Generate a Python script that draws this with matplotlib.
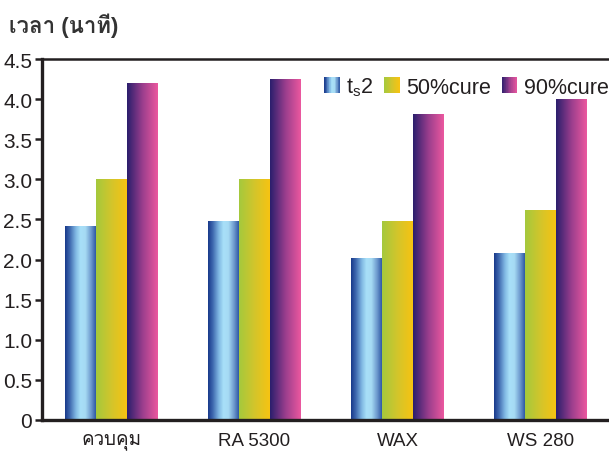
import numpy as np
import matplotlib
matplotlib.use("Agg")
import matplotlib.pyplot as plt
from matplotlib import font_manager
from matplotlib.ft2font import FT2Font
from matplotlib.colors import LinearSegmentedColormap
from matplotlib.patches import Rectangle
from matplotlib.legend_handler import HandlerBase

# ---- data -------------------------------------------------------------
categories = ["ควบคุม", "RA 5300", "WAX", "WS 280"]
series_names = ["$\\mathregular{t_s}$2", "50%cure", "90%cure"]
ts2 = [2.41, 2.47, 2.01, 2.08]
cure50 = [3.00, 3.00, 2.48, 2.61]
cure90 = [4.20, 4.24, 3.81, 3.99]
y_ticks = [0, 0.5, 1.0, 1.5, 2.0, 2.5, 3.0, 3.5, 4.0, 4.5]
y_tick_labels = ["0", "0.5", "1.0", "1.5", "2.0", "2.5", "3.0", "3.5", "4.0", "4.5"]
y_title = "เวลา (นาที)"


# ---- fonts: find an installed face that has Thai glyphs ---------------
def find_thai_family():
    for f in font_manager.fontManager.ttflist:
        try:
            if 0x0E27 in FT2Font(f.fname).get_charmap():
                return f.name
        except Exception:
            continue
    return None


thai = find_thai_family()
families = ["Liberation Sans", "DejaVu Sans"]
if thai:
    families = ["Liberation Sans", thai, "DejaVu Sans"]
plt.rcParams["font.family"] = families
plt.rcParams["mathtext.fontset"] = "custom"
plt.rcParams["mathtext.rm"] = "Liberation Sans"

INK = "#231f20"

# ---- horizontal gradients for each series -----------------------------
cmaps = [
    LinearSegmentedColormap.from_list("ts2", [
        (0.00, "#18398a"), (0.15, "#3d66ad"), (0.35, "#80b8e3"),
        (0.50, "#a8e0f8"), (0.66, "#a6dbf4"), (0.85, "#6b97cc"),
        (1.00, "#2e58a4")]),
    LinearSegmentedColormap.from_list("c50", [
        (0.00, "#a4c93d"), (0.50, "#d3c52b"), (1.00, "#f7c312")]),
    LinearSegmentedColormap.from_list("c90", [
        (0.00, "#2a1e6c"), (0.50, "#9a3e8d"), (1.00, "#ec589f")]),
]
grad = np.linspace(0, 1, 256).reshape(1, -1)

fig = plt.figure(figsize=(6.09, 4.52), dpi=100)
ax = fig.add_axes([42 / 609, 31 / 452, (609 - 42) / 609, 361 / 452])

x = np.arange(len(categories))
width = 0.215
offsets = [-width, 0.0, width]
series = [ts2, cure50, cure90]

for vals, off, cmap in zip(series, offsets, cmaps):
    bars = ax.bar(x + off, vals, width, color="none", linewidth=0)
    for b in bars:
        x0, w, h = b.get_x(), b.get_width(), b.get_height()
        ax.imshow(grad, cmap=cmap, aspect="auto", interpolation="bilinear",
                  extent=[x0, x0 + w, 0, h], zorder=2)

ax.set_xlim(-0.486, 3.479)
ax.set_ylim(0, 4.5)

ax.set_yticks(y_ticks, y_tick_labels)
ax.set_xticks(x, categories)
ax.tick_params(axis="y", direction="out", length=5, width=1.8, color=INK,
               labelsize=15, labelcolor=INK, pad=2)
ax.tick_params(axis="x", length=0, labelsize=13.5, labelcolor=INK, pad=9)

for side in ("left", "bottom", "top"):
    ax.spines[side].set_color(INK)
ax.spines["left"].set_linewidth(2.4)
ax.spines["bottom"].set_linewidth(2.4)
ax.spines["top"].set_linewidth(1.8)
ax.spines["right"].set_visible(False)


# ---- legend with gradient swatches ------------------------------------
class GradientSwatch(HandlerBase):
    def __init__(self, cmap, steps=24):
        super().__init__()
        self.cmap = cmap
        self.steps = steps

    def create_artists(self, legend, orig_handle, xdescent, ydescent,
                       width, height, fontsize, trans):
        sw = width / self.steps
        arts = []
        for i in range(self.steps):
            r = Rectangle((-xdescent + i * sw, -ydescent), sw * 1.05, height,
                          facecolor=self.cmap((i + 0.5) / self.steps),
                          edgecolor="none", transform=trans)
            arts.append(r)
        return arts


proxies = [Rectangle((0, 0), 1, 1) for _ in cmaps]
ax.legend(proxies, series_names, ncol=3, frameon=False,
          loc="upper right", bbox_to_anchor=(1.022, 0.99),
          fontsize=15.5, handlelength=0.72, handleheight=0.8,
          handletextpad=0.3, columnspacing=0.5, borderaxespad=0.2,
          labelcolor=INK,
          handler_map={p: GradientSwatch(c) for p, c in zip(proxies, cmaps)})

fig.text(9 / 609, 1 - 26 / 452, y_title, fontsize=16, fontweight="bold",
         color="#333333", ha="left", va="center")

fig.savefig("out.png", dpi=100)
